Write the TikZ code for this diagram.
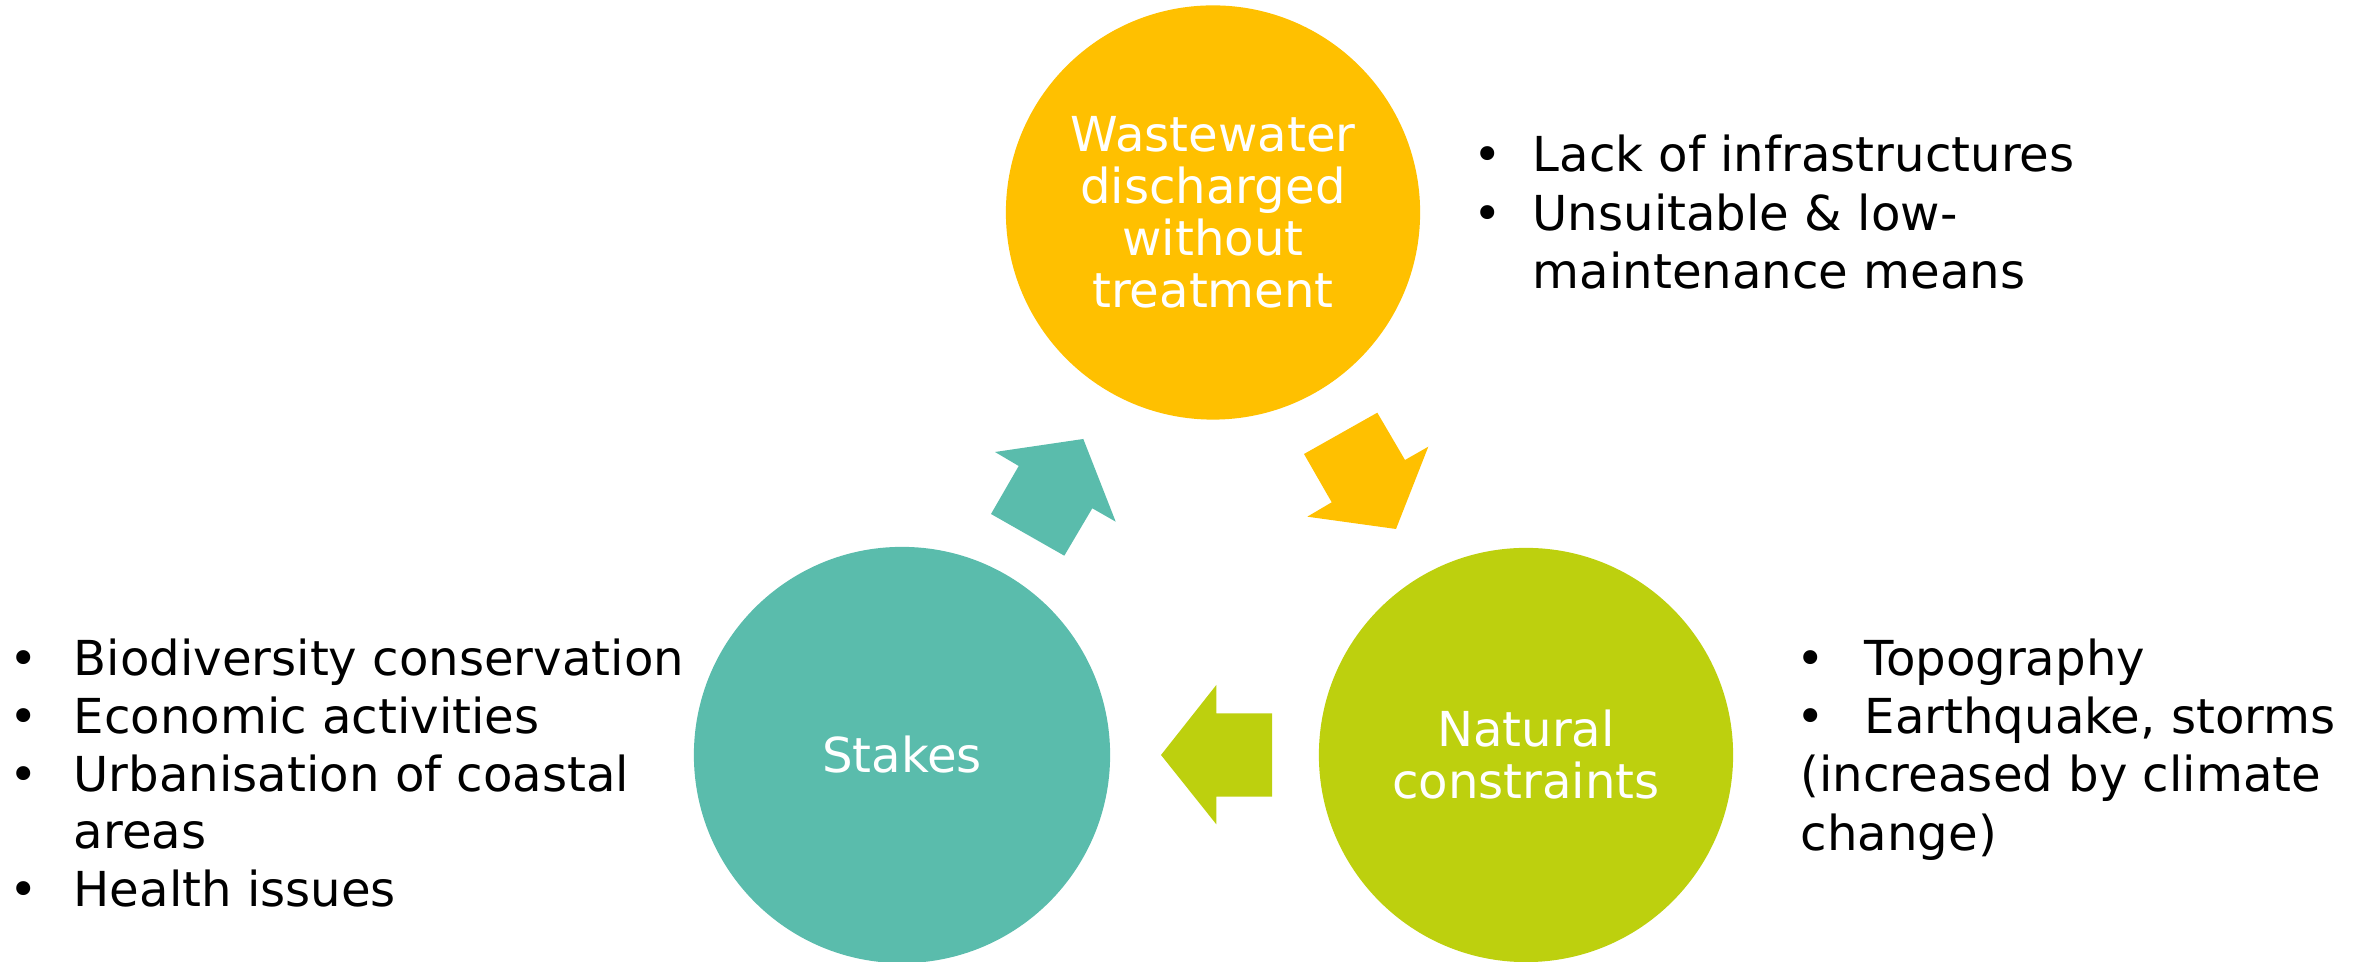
\documentclass[tikz,border=0pt]{standalone}
\usepackage{fontspec}
\setmainfont{DejaVu Sans}
\definecolor{cOrange}{RGB}{255,192,0}
\definecolor{cTeal}{RGB}{90,188,172}
\definecolor{cLime}{RGB}{189,208,14}
\begin{document}
\begin{tikzpicture}[x=0.01cm,y=-0.01cm,
  txt/.style={anchor=base west, inner sep=0, font=\fontsize{13.7}{16.5}\selectfont},
  bub/.style={circle, inner sep=0, minimum size=4.14cm, text=white, align=center, font=\fontsize{13.7}{14.8}\selectfont}]
\useasboundingbox (0,0) rectangle (2369,962);
% circles
\node[bub, fill=cOrange] (waste) at (1213,212.5) {Wastewater\\discharged\\without\\treatment};
\node[bub, fill=cTeal, minimum size=4.16cm] (stakes) at (902,755) {Stakes};
\node[bub, fill=cLime] (natural) at (1526,755) {Natural\\constraints};
% block arrows
\fill[cTeal] (995,452) -- (1083.3,439) -- (1115.7,521.7) -- (1092.3,508.3) -- (1064.3,555.7) -- (991,514) -- (1018.7,466) -- cycle;
\fill[cOrange] (1304,454) -- (1377.3,412.7) -- (1405,460) -- (1428.3,446.7) -- (1396,529) -- (1307.3,516.7) -- (1331.7,502.3) -- cycle;
\fill[cLime] (1161,755) -- (1216.3,685) -- (1216.3,713.3) -- (1272,713.3) -- (1272,796.7) -- (1216.3,796.7) -- (1216.3,824.3) -- cycle;
% top-right list
\node[txt] (tb1) at (1473,172) {•};
\node[txt] (tt1) at (1532,172) {Lack of infrastructures};
\node[txt] (tb2) at (1473,231) {•};
\node[txt] (tt2) at (1532,231) {Unsuitable \& low-};
\node[txt] (tt3) at (1532,289) {maintenance means};
% left list
\node[txt] (lb1) at (9,676) {•};
\node[txt] (lt1) at (73,676) {Biodiversity conservation};
\node[txt] (lb2) at (9,734) {•};
\node[txt] (lt2) at (73,734) {Economic activities};
\node[txt] (lb3) at (9,792) {•};
\node[txt] (lt3) at (73,792) {Urbanisation of coastal};
\node[txt] (lt4) at (73,849) {areas};
\node[txt] (lb5) at (9,907) {•};
\node[txt] (lt5) at (73,907) {Health issues};
% right list
\node[txt] (rb1) at (1796,676) {•};
\node[txt] (rt1) at (1864,676) {Topography};
\node[txt] (rb2) at (1796,734) {•};
\node[txt] (rt2) at (1864,734) {Earthquake, storms};
\node[txt] (rt3) at (1800,792) {(increased by climate};
\node[txt] (rt4) at (1800,851) {change)};
\end{tikzpicture}
\end{document}
